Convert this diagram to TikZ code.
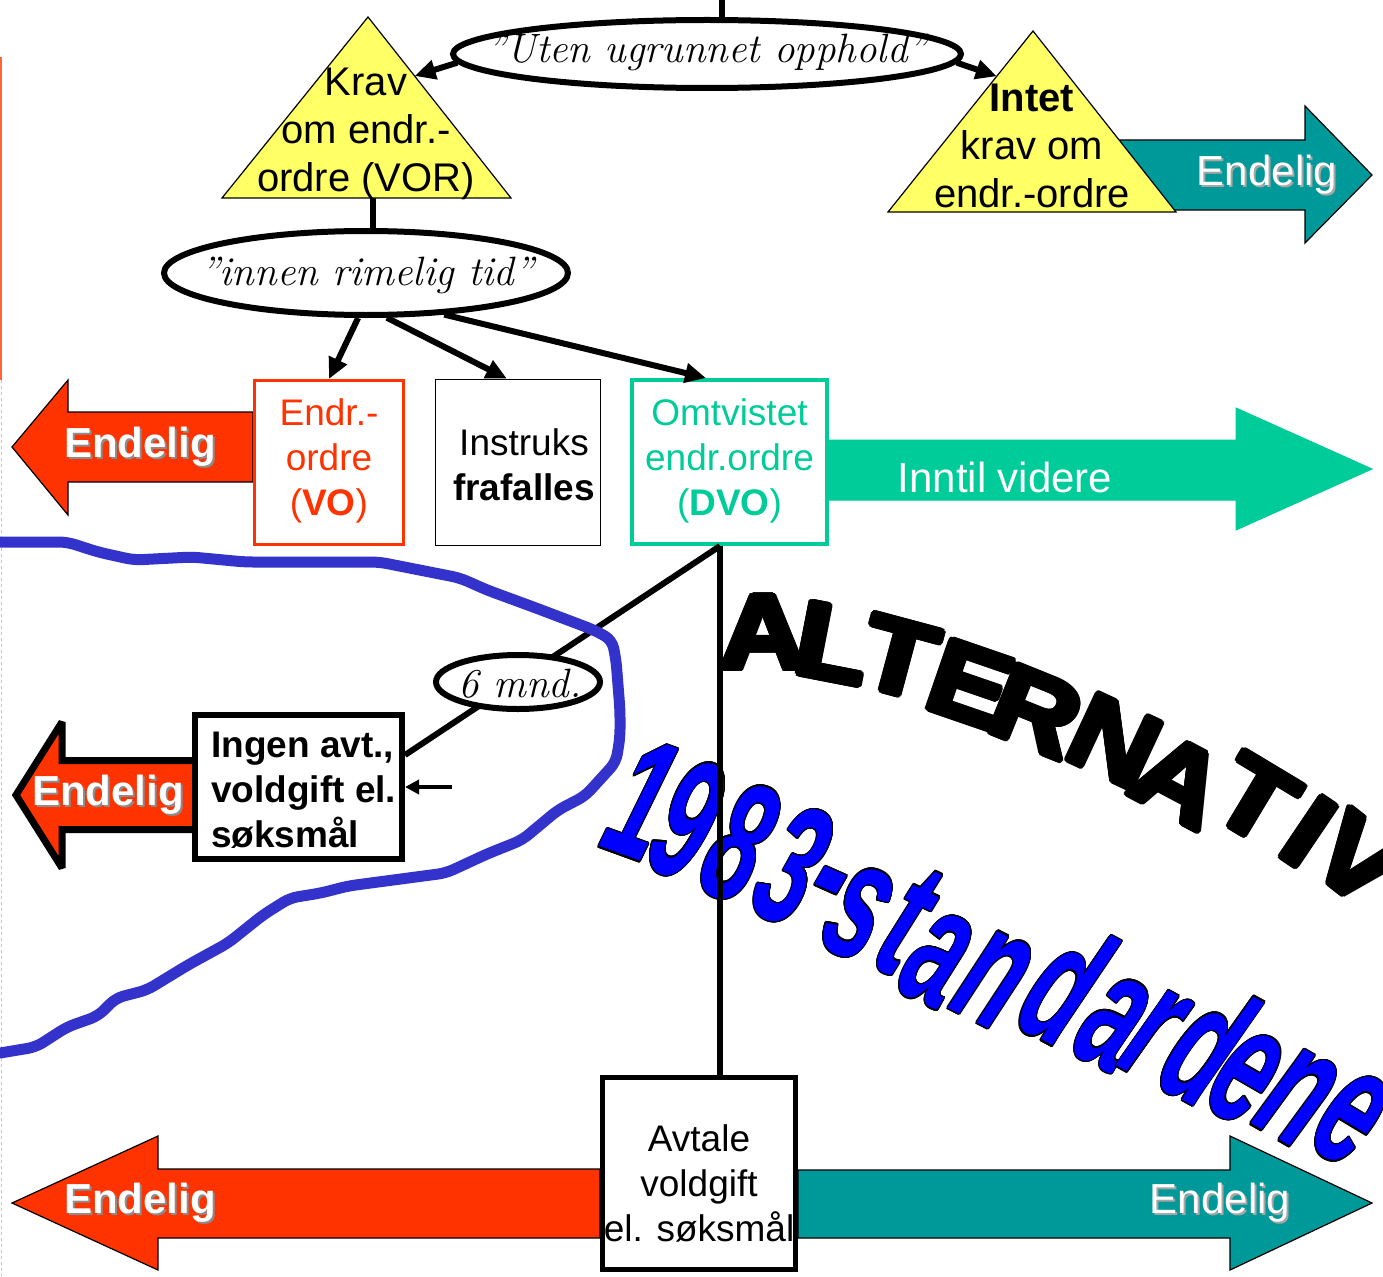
\documentclass[tikz,border=0pt]{standalone}
\usepackage{fontspec}
\setsansfont{Liberation Sans}
\usepackage{contour}
\usetikzlibrary{arrows.meta,shapes.geometric,calc}
\definecolor{triY}{HTML}{FFFF66}
\definecolor{redo}{HTML}{FF3300}
\definecolor{grn}{HTML}{00CC99}
\definecolor{tealA}{HTML}{009999}
\definecolor{blueline}{HTML}{3333CC}
\definecolor{bluetxt}{HTML}{0000FF}
\definecolor{edgeo}{HTML}{FF6633}
\begin{document}
\begin{tikzpicture}[x=1pt,y=-1pt,
  conn/.style={line width=6pt},
  arr/.style={line width=6pt,-{Triangle[length=21pt,width=19pt]}},
  ellsh/.style={ellipse,draw,line width=6pt,fill=white,inner sep=0pt},
  hand/.style={font=\rmfamily\itshape\fontsize{41}{44}\selectfont,inner sep=0pt},
  boxsh/.style={rectangle,draw,fill=white,inner sep=0pt},
  btxt/.style={align=center,inner sep=0pt,font=\sffamily\fontsize{37}{45}\selectfont},
  ttxt/.style={align=center,inner sep=0pt,font=\sffamily\fontsize{40}{48}\selectfont},
  blk/.style={line width=1.2pt,line join=miter},
  wlbl/.style={text=white,inner sep=0pt,font=\sffamily\bfseries\fontsize{42}{48}\selectfont},
  wlblr/.style={text=white,inner sep=0pt,font=\sffamily\fontsize{42}{48}\selectfont},
  shd/.style={text=black!45,inner sep=0pt,font=\sffamily\bfseries\fontsize{42}{48}\selectfont},
  shdr/.style={text=black!35,inner sep=0pt,font=\sffamily\fontsize{42}{48}\selectfont},
  bigblack/.style={inner sep=0pt,font=\sffamily\bfseries\fontsize{106}{106}\selectfont},
  bigblue/.style={inner sep=0pt,text=bluetxt,font=\sffamily\bfseries\itshape\fontsize{172}{172}\selectfont},
]
\path[use as bounding box] (0,0) rectangle (1383,1276);
\fill[white] (0,0) rectangle (1383,1276);
% left edge marks
\draw[edgeo,line width=1.5pt] (1,57) -- (1,380);
\draw[edgeo!50,dashed,line width=1pt] (1,380) -- (1,1276);

% ALTERNATIV
\foreach \ch/\px/\py/\rr in {A/763/634/0, L/833/645/-11, T/899/659/-15, E/970/686/-19, R/1036/713/-22, N/1114/743/-25, A/1179/782/-28, T/1255/801/-31, I/1308/833/-34, V/1357/861/-38}
  \node[bigblack,rotate=\rr] at (\px,\py) {\scalebox{1.12}[1]{\contourlength{3pt}\contour{black}{\ch}}};
% 1983-standardene
\foreach \ch/\px/\py/\rr in {1/642/800/-20, 9/687/820/-21, 8/740/843/-22, 3/793/866/-23, -/824/897/-24, s/858/914/-25, t/907/922/-26, a/937/960/-26, n/993/980/-27, d/1065/984/-28, a/1113/1024/-28, r/1153/1034/-29, d/1207/1044/-29, e/1245/1078/-30, n/1297/1098/-30, e/1350/1119/-31}
  \node[bigblue,rotate=\rr] at (\px,\py) {\scalebox{0.55}[1]{\contourlength{1.6pt}\contour{black}{\ch}}};

% block arrows
\draw[blk,fill=redo] (253,412) -- (68,412) -- (68,380) -- (12,447) -- (68,515) -- (68,482) -- (253,482) -- cycle;
\draw[line width=7pt,line join=miter,miter limit=3,fill=redo] (195,760.5) -- (62,760.5) -- (62,722) -- (16,795) -- (62,868) -- (62,829.5) -- (195,829.5);
\draw[blk,fill=redo] (600,1169) -- (158,1169) -- (158,1136) -- (12,1203) -- (158,1270) -- (158,1238) -- (600,1238) -- cycle;
\draw[grn,line width=1pt,fill=grn] (829,440) -- (1236,440) -- (1236,408) -- (1372,469) -- (1236,530) -- (1236,500) -- (829,500) -- cycle;
\draw[blk,fill=tealA] (1120,140) -- (1305,140) -- (1305,106) -- (1372,175) -- (1305,243) -- (1305,210) -- (1120,210) -- cycle;
\draw[blk,fill=tealA] (798,1170) -- (1230,1170) -- (1230,1136) -- (1372,1203) -- (1230,1270) -- (1230,1238) -- (798,1238) -- cycle;

% arrow labels
\node[shd] at (142,449) {Endelig}; \node[wlbl] (e1) at (140,447) {Endelig};
\node[shd] at (110,797) {Endelig}; \node[wlbl] (e2) at (108,795) {Endelig};
\node[shd] at (142,1205) {Endelig}; \node[wlbl] (e3) at (140,1203) {Endelig};
\node[shdr] at (1269,177) {Endelig}; \node[wlblr] (e4) at (1267,175) {Endelig};
\node[shdr] at (1222,1205) {Endelig}; \node[wlblr] (e5) at (1220,1203) {Endelig};
\node[wlblr] (iv) at (1005,477) {Inntil videre};

% triangles
\coordinate (kA) at (368,17); \coordinate (kL) at (222,198); \coordinate (kR) at (511,198);
\draw[line width=1.2pt,fill=triY] (kA) -- (kR) -- (kL) -- cycle;
\node[ttxt] (krav) at (366,134) {Krav\\om endr.-\\ordre (VOR)};
\coordinate (iA) at (1033,31); \coordinate (iL) at (888,212); \coordinate (iR) at (1176,212);
\draw[line width=1.2pt,fill=triY] (iA) -- (iR) -- (iL) -- cycle;
\node[ttxt] (intet) at (1032,146) {\textbf{Intet}\\krav om\\endr.-ordre};
\coordinate (kravR) at ($(kA)!0.326!(kR)$);
\coordinate (kravB) at ($(kL)!0.524!(kR)$);
\coordinate (intetL) at ($(iA)!0.25!(iL)$);

% ellipses
\coordinate (top) at (722,0);
\node[ellsh,minimum width=508pt,minimum height=68pt] (uten) at (707,54) {};
\draw[conn] (top) -- (top |- uten.north);
\node[hand] at (707,52) {”Uten ugrunnet opphold”};
\node[ellsh,minimum width=404pt,minimum height=84pt] (innen) at (366,273) {};
\node[hand] at (367,275) {”innen rimelig tid”};
\draw[conn] (kravB) -- (kravB |- innen.north);
\draw[arr] (uten.182) -- (kravR);
\draw[arr] (uten.-2) -- (intetL);

% boxes
\node[boxsh,draw=redo,line width=3pt,minimum width=149pt,minimum height=164pt] (vo) at (329,462.5) {};
\node[btxt,text=redo] at (329,461) {Endr.-\\ordre\\(\textbf{VO})};
\node[boxsh,line width=1.5pt,minimum width=165pt,minimum height=166pt] (instr) at (518,462.5) {};
\node[btxt] at (524,465) {Instruks\\\textbf{frafalles}};
\node[boxsh,draw=grn,line width=4pt,minimum width=195pt,minimum height=164pt] (dvo) at (729.5,462) {};
\node[btxt,text=grn] at (729.5,461) {Omtvistet\\endr.ordre\\(\textbf{DVO})};

\draw[arr] (innen.260) -- (vo.north);
\draw[arr] (innen.295) -- ($(instr.north)+(-11,0)$);
\draw[arr] (innen.332) -- ($(dvo.north west)+(76,0)$);

% lower part
\node[boxsh,line width=6pt,minimum width=207pt,minimum height=144pt] (ingen) at (298.5,787) {};
\node[btxt,align=left,anchor=west,font=\sffamily\bfseries\fontsize{37}{45}\selectfont] at (211,790) {Ingen avt.,\\voldgift el.\\søksmål};
\node[boxsh,line width=5pt,minimum width=193pt,minimum height=192pt] (avt) at (699,1173.5) {};
\node[btxt] at (699,1183) {Avtale\\voldgift\\el. søksmål};
\coordinate (dvoS) at ($(dvo.south)+(-9.5,0)$);
\draw[conn] (dvoS) -- (dvoS |- avt.north);
\coordinate (ingenR) at ($(ingen.north east)+(0,43)$);
\draw[conn] (dvoS) -- (ingenR);
\node[ellsh,minimum width=164pt,minimum height=54pt] (mnd) at (518,682) {};
\node[hand] at (520,684) {6 mnd.};
\coordinate (sm) at (452,787);
\draw[line width=4pt,-{Triangle[length=14pt,width=14pt]}] (sm) -- (ingen.east |- sm);

% blue hand-drawn line
\draw[blueline,line width=11pt,line join=round,line cap=round,rounded corners=8pt]
 (0,542) -- (67,542) -- (98,552) -- (134,560) -- (192,557) -- (245,562) -- (379,562) -- (460,578) -- (487,590) -- (536,608) -- (594,630) -- (612,640) -- (616,660) -- (620,710) -- (620,737) -- (616,762) -- (585,796) -- (558,810) -- (522,840) -- (487,854) -- (446,873) -- (348,886) -- (321,893) -- (290,898) -- (263,915) -- (228,943) -- (188,965) -- (147,990) -- (116,998) -- (98,1016) -- (67,1027) -- (36,1047) -- (0,1053);
\end{tikzpicture}
\end{document}
